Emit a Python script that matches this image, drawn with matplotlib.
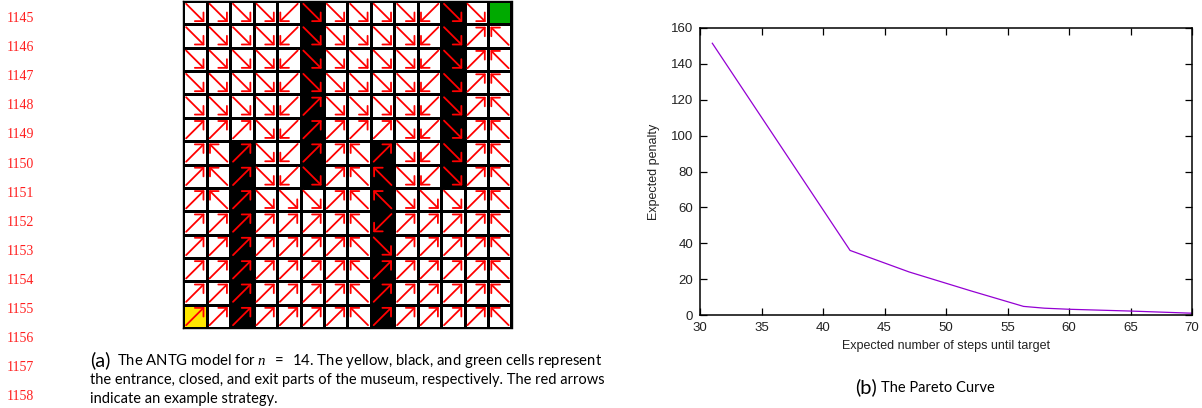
import matplotlib.pyplot as plt
import numpy as np
from matplotlib.colors import ListedColormap
from matplotlib.patches import FancyArrowPatch

plt.rcParams['mathtext.fontset'] = 'custom'
plt.rcParams['mathtext.it'] = 'Liberation Serif:italic'
plt.rcParams['mathtext.rm'] = 'Lato'

# ---- data ----
# strategy arrows, row 0 is the top row; '.' means no arrow (exit)
strategy = [
    "↘↘↘↘↙↘↘↘↘↘↙↘↘.",
    "↘↘↘↘↙↘↘↘↘↘↙↘↗↖",
    "↘↘↘↘↙↘↘↘↘↘↙↘↗↖",
    "↘↘↘↘↙↘↘↘↘↘↙↘↗↖",
    "↘↘↘↘↙↗↘↘↘↘↙↘↗↖",
    "↗↗↗↘↙↗↗↗↗↘↙↘↗↖",
    "↗↖↗↘↙↗↗↖↗↘↙↘↗↖",
    "↗↖↗↘↙↘↗↖↖↘↙↘↗↖",
    "↗↖↗↘↘↘↗↖↖↘↘↘↗↖",
    "↗↗↗↗↗↗↗↖↙↗↗↗↗↖",
    "↗↗↗↗↗↗↗↖↘↗↗↗↗↖",
    "↗↗↗↗↗↗↗↖↗↗↗↗↗↖",
    "↗↗↗↗↗↗↗↖↗↗↗↗↗↖",
    "↗↗↗↗↗↗↗↖↗↗↗↗↗↖",
]
n = 14
entrance = (13, 0)        # (row, col)
exit_cell = (0, 13)
closed_cols = [2, 5, 8, 11]
closed_rows = [(6, 13), (0, 7), (6, 13), (0, 7)]   # first/last row, inclusive

steps = [31.0, 42.2, 47.0, 52.0, 56.3, 58.0, 60.0, 65.0, 70.0]
penalty = [151.5, 36.0, 24.0, 13.5, 4.8, 3.8, 3.2, 2.2, 1.0]

line_numbers = list(range(1145, 1159))

W, H = 1202, 408
fig = plt.figure(figsize=(W / 100, H / 100), dpi=100)

def fx(x):
    return x / W

def fy(y):
    return 1 - y / H

# ---- (a) grid ----
ax = fig.add_axes([fx(183.3), fy(328), 328.2 / W, 327 / H])
state = np.zeros((n, n), dtype=int)
for c, (r0, r1) in zip(closed_cols, closed_rows):
    state[r0:r1 + 1, c] = 1
state[entrance] = 2
state[exit_cell] = 3
cmap = ListedColormap(['white', 'black', '#ffe600', '#00aa00'])
ax.pcolormesh(np.arange(n + 1), np.arange(n + 1), state[::-1], cmap=cmap,
              vmin=-0.5, vmax=3.5, edgecolors='black', linewidth=0.9)

dirs = {'↗': (1, 1), '↖': (-1, 1), '↙': (-1, -1), '↘': (1, -1)}
for r, row in enumerate(strategy):
    for c, ch in enumerate(row):
        if ch not in dirs:
            continue
        dx, dy = dirs[ch]
        cx, cy = c + 0.5, n - r - 0.5
        arr = FancyArrowPatch((cx - 0.38 * dx, cy - 0.38 * dy),
                              (cx + 0.4 * dx, cy + 0.4 * dy),
                              arrowstyle='->,head_length=0.4,head_width=0.4',
                              mutation_scale=11, color='red', lw=1.3,
                              shrinkA=0, shrinkB=0)
        ax.add_patch(arr)
ax.set_xlim(0, n)
ax.set_ylim(0, n)
ax.set_xticks([])
ax.set_yticks([])
for s in ax.spines.values():
    s.set_linewidth(1.0)

# ---- (b) pareto curve ----
bx = fig.add_axes([fx(700), fy(315), 492 / W, 287 / H])
bx.plot(steps, penalty, color='#9400d3', lw=0.9)
bx.set_xlim(30, 70)
bx.set_ylim(0, 160)
bx.set_xticks(range(30, 71, 5))
bx.set_yticks(range(0, 161, 20))
bx.tick_params(direction='in', top=True, right=True, length=5, width=0.9,
               labelsize=9.5, pad=5)
for lab in bx.get_xticklabels() + bx.get_yticklabels():
    lab.set_family('Liberation Sans')
    lab.set_color('#222222')
for s in bx.spines.values():
    s.set_linewidth(1.1)
bx.set_xlabel('Expected number of steps until target', family='Liberation Sans',
              fontsize=9, labelpad=4, color='#222222')
bx.set_ylabel('Expected penalty', family='Liberation Sans', fontsize=9,
              labelpad=8, color='#222222')

# ---- page text ----
for i, num in enumerate(line_numbers):
    fig.text(fx(7), fy(18.5 + 29.1 * i), str(num), color='#ff2020',
             family='Liberation Serif', fontsize=10, va='center', ha='left')

cap_font = 'Lato'
fig.text(fx(90), fy(360), '(a)', family=cap_font, fontsize=14.5, va='center')
fig.text(fx(117), fy(361),
         r'The ANTG model for $n\ \ =\ \ 14$. The yellow, black, and green cells represent',
         family=cap_font, fontsize=10.7, va='center')
fig.text(fx(90), fy(380),
         'the entrance, closed, and exit parts of the museum, respectively. The red arrows',
         family=cap_font, fontsize=10.5, va='center')
fig.text(fx(90), fy(399), 'indicate an example strategy.',
         family=cap_font, fontsize=10.5, va='center')

fig.text(fx(855), fy(387), '(b)', family=cap_font, fontsize=14.5, va='center')
fig.text(fx(881), fy(388), 'The Pareto Curve', family=cap_font, fontsize=10.5,
         va='center')

fig.savefig('out.png', dpi=100)
